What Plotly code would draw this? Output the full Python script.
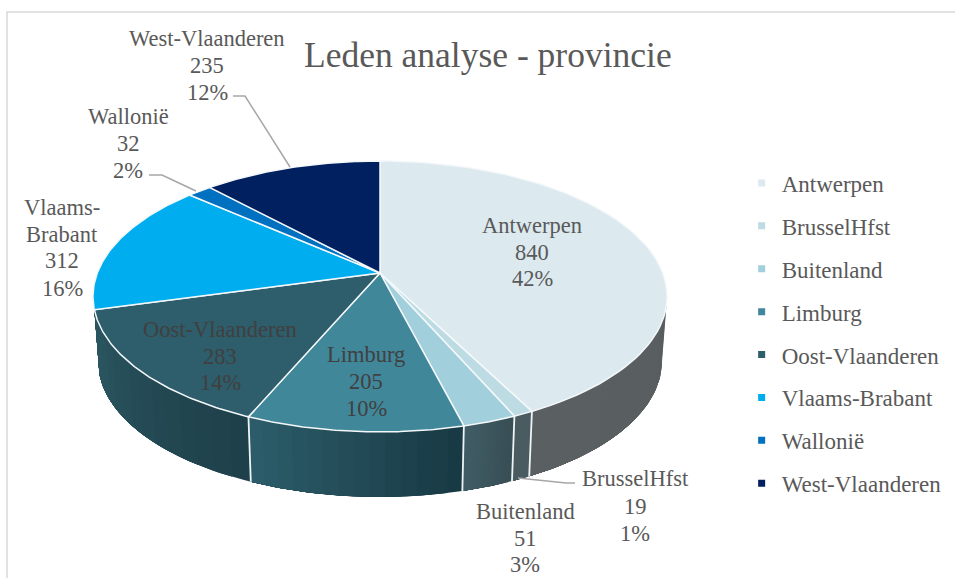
import numpy as np
import plotly.graph_objects as go

categories = ["Antwerpen", "BrusselHfst", "Buitenland", "Limburg",
              "Oost-Vlaanderen", "Vlaams-Brabant", "Wallonië", "West-Vlaanderen"]
values = [840, 19, 51, 205, 283, 312, 32, 235]
top_colors = ["#dce9ef", "#bcdbe3", "#a1cfdb", "#41879a", "#2e5d6b", "#00aeef", "#0070c0", "#002060"]
# side shading at the slice's clockwise start and end
side_start = [(88, 93, 95), (74, 92, 97), (56, 78, 85), (24, 58, 68), (30, 64, 74), None, None, None]
side_end = [(90, 95, 97), (74, 92, 97), (64, 92, 101), (44, 92, 106), (43, 86, 97), None, None, None]
FONT = "Liberation Serif"
TEXT = "#595959"

total = sum(values)
edges = np.cumsum([0] + values) / total * 2 * np.pi

# projection of the tilted disc into page pixels
CX, CY, RX, RY, K = 380.0, 273.0, 282.7, 131.4, -0.173
DEPTH, SHRINK = 65.0, 0.982


def top(t):
    u, v = np.sin(t), -np.cos(t)
    w = 1 + K * v
    return CX + RX * u / w, CY + RY * v / w


def bottom(t):
    x, y = top(t)
    return CX + (x - CX) * SHRINK, y + DEPTH


def hexc(c):
    return "rgb(%d,%d,%d)" % tuple(int(round(a)) for a in c)


fig = go.Figure()

# sides: each shade is painted from its own angle to the slice's end, so the
# shades overlap and leave no seams. The top face covers what lies behind it.
for i in range(5):
    a, b = edges[i], edges[i + 1]
    a = max(a, np.radians(95))
    steps = 14
    ts = np.linspace(a, b, steps + 1)
    for j in range(steps):
        f = j / (steps - 1)
        col = [s + (e - s) * f for s, e in zip(side_start[i], side_end[i])]
        tt = np.linspace(ts[j], b, 40)
        xt, yt = top(tt)
        xb, yb = bottom(tt[::-1])
        fig.add_trace(go.Scatter(x=np.r_[xt, xb], y=np.r_[yt, yb], mode="lines", fill="toself",
                                 fillcolor=hexc(col), line=dict(width=0),
                                 showlegend=False, hoverinfo="skip"))

# white seams between the sides
for e in edges[1:5]:
    xt, yt = top(e)
    xb, yb = bottom(e)
    fig.add_trace(go.Scatter(x=[xt, xb], y=[yt, yb], mode="lines",
                             line=dict(color="#eef4f6", width=1.8),
                             showlegend=False, hoverinfo="skip"))

# top face
for i, name in enumerate(categories):
    tt = np.linspace(edges[i], edges[i + 1], 80)
    xs, ys = top(tt)
    fig.add_trace(go.Scatter(x=np.r_[CX, xs, CX], y=np.r_[CY, ys, CY], mode="lines", fill="toself",
                             fillcolor=top_colors[i], line=dict(color="#f4f8fa", width=1.5),
                             name=name, showlegend=False, hoverinfo="skip"))

# legend
for i, name in enumerate(categories):
    fig.add_trace(go.Scatter(x=[None], y=[None], mode="markers", name=name, legendgroup=name,
                             marker=dict(symbol="square", size=7, color=top_colors[i])))

# data labels: (slice index, lines, centre x, first line y)
label_place = {
    0: (532, [225, 252, 278], TEXT, None),
    1: (635, [478, 506, 533], TEXT, None),
    2: (525, [511, 538, 564], TEXT, None),
    3: (366, [354, 381, 408], "#404040", None),
    4: (220, [329, 356, 382], "#404040", None),
    5: (62, [207, 234, 260, 288], TEXT, ["Vlaams-", "Brabant"]),
    6: (128, [116, 143, 170], TEXT, None),
    7: (207, [38, 65, 92], TEXT, None),
}
annotations = []
for i, (px, ys, color, head) in label_place.items():
    pct = f"{values[i] / total * 100:.0f}%"
    lines = (head or [categories[i]]) + [str(values[i]), pct]
    for line, py in zip(lines, ys):
        annotations.append(dict(x=px, y=py, text=line, showarrow=False, xanchor="center", yanchor="middle",
                                font=dict(family=FONT, size=22.5, color=color)))
annotations.append(dict(x=488, y=55, text="Leden analyse - provincie", showarrow=False,
                        xanchor="center", yanchor="middle", font=dict(family=FONT, size=35.5, color=TEXT)))

leader = dict(type="path", line=dict(color="#a6a6a6", width=1.5), layer="above")
shapes = [
    dict(leader, path="M 233 96 L 245 96 L 290 167"),
    dict(leader, path="M 149 175 L 162 175 L 196 191"),
    dict(leader, path="M 518 478 L 566 483 L 575 483"),
    dict(type="path", path="M 7 578 L 7 12 L 955 12", line=dict(color="#d9d9d9", width=1.5), layer="below"),
]

fig.update_layout(
    width=955, height=578, margin=dict(l=0, r=0, t=0, b=0),
    paper_bgcolor="white", plot_bgcolor="white",
    xaxis=dict(range=[0, 955], visible=False, fixedrange=True),
    yaxis=dict(range=[578, 0], visible=False, fixedrange=True),
    annotations=annotations, shapes=shapes,
    legend=dict(x=0.7923, y=0.423, xanchor="left", yanchor="middle", tracegroupgap=10, indentation=-15,
                font=dict(family=FONT, size=23, color=TEXT), bgcolor="rgba(0,0,0,0)"),
)
fig.write_html("out.html", post_script="document.body.style.margin='0';",
               config={"displayModeBar": False})
